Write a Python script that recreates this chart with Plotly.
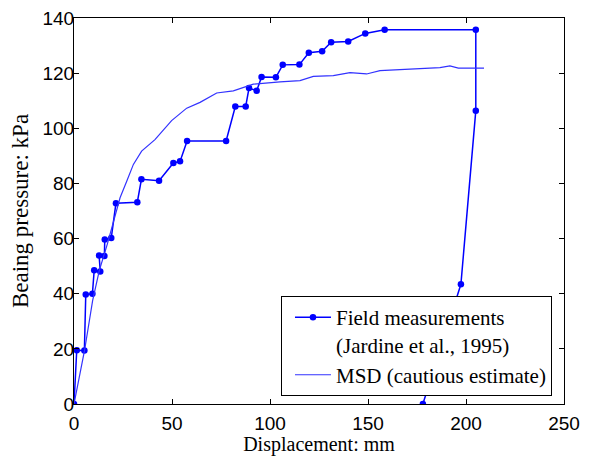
import plotly.graph_objects as go

# Field measurements (Jardine et al., 1995)
field_x = [0, 1.4, 5.3, 6.0, 9.4, 10.3, 13.4, 12.8, 15.5, 15.7, 19.0, 21.4, 32.3, 34.4,
           43.4, 50.7, 54.1, 57.7, 77.6, 82.3, 87.6, 89.3, 93.2, 95.7, 103.0, 106.5,
           115.0, 119.8, 126.6, 131.2, 139.9, 148.6, 158.5, 205.0, 205.0, 197.4, 178.0]
field_y = [0, 19.5, 19.4, 39.7, 40.0, 48.5, 48.1, 53.9, 53.7, 59.7, 60.2, 72.8, 73.2, 81.5,
           81.0, 87.4, 88.0, 95.4, 95.4, 107.9, 107.9, 114.6, 113.6, 118.6, 118.5, 123.0,
           123.1, 127.4, 127.9, 131.2, 131.5, 134.4, 135.7, 135.7, 106.4, 43.4, 0]

# MSD (cautious estimate)
msd_x = [0, 5.4, 9.5, 12.9, 17.0, 20.9, 23.5, 27.0, 30.3, 34.5, 41.3, 49.8, 57.5, 64.3,
         72.8, 81.3, 91.5, 105.1, 115.3, 122.1, 132.3, 140.8, 149.3, 156.1, 169.7, 174.8,
         186.7, 191.8, 196.1, 209.2]
msd_y = [0, 19.5, 37.5, 48.4, 58.0, 67.6, 74.8, 81.0, 86.9, 91.7, 95.9, 102.8, 107.3, 109.4,
         112.8, 113.6, 116.0, 116.8, 117.3, 118.8, 119.1, 120.2, 119.7, 120.9, 121.4, 121.8,
         122.0, 122.6, 121.8, 121.8]

x_ticks = [0, 50, 100, 150, 200, 250]
y_ticks = [0, 20, 40, 60, 80, 100, 120, 140]

fig = go.Figure()
fig.add_trace(go.Scatter(
    x=field_x, y=field_y, mode="lines+markers",
    name="Field measurements<br>(Jardine et al., 1995)",
    line=dict(color="rgb(0,0,255)", width=1.5),
    marker=dict(color="rgb(0,0,255)", size=6.5, symbol="circle"),
))
fig.add_trace(go.Scatter(
    x=msd_x, y=msd_y, mode="lines",
    name="MSD (cautious estimate)",
    line=dict(color="rgb(50,50,255)", width=1.2),
))

axis_common = dict(
    showgrid=False, zeroline=False, showline=True, linecolor="black", linewidth=1,
    mirror="ticks", ticks="inside", ticklen=5, tickcolor="black", automargin=False,
    ticklabeloverflow="allow",
    tickfont=dict(family="Liberation Sans, Arial, sans-serif", size=19, color="black"),
)

# the page body adds an 8px offset, so the figure is 8px smaller and margins shifted
fig.update_layout(
    width=581, height=448,
    margin=dict(l=66, r=25, t=10, b=52),
    paper_bgcolor="white", plot_bgcolor="white",
    xaxis=dict(range=[0, 250], tickvals=x_ticks, **axis_common, ticklabelstandoff=2,
               title=dict(text="Displacement: mm", standoff=10,
                          font=dict(family="Liberation Serif, Times New Roman, serif",
                                    size=20, color="black"))),
    yaxis=dict(range=[0, 140], tickvals=y_ticks, **axis_common, ticklabelstandoff=-5,
               title=dict(text="Beaing pressure: kPa", standoff=7,
                          font=dict(family="Liberation Serif, Times New Roman, serif",
                                    size=23, color="black"))),
    legend=dict(
        x=0.4224, y=0.2798, xanchor="left", yanchor="top",
        bgcolor="white", bordercolor="black", borderwidth=1,
        font=dict(family="Liberation Serif, Times New Roman, serif", size=21, color="black"),
        valign="top", tracegroupgap=0, itemwidth=36, indentation=8,
    ),
    showlegend=True,
)

fig.write_html("out.html")
